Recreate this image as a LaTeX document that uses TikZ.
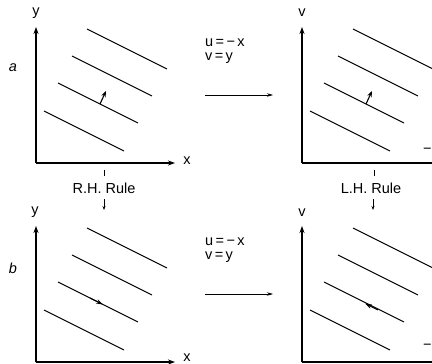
\documentclass[tikz,border=0pt]{standalone}
\usepackage{fontspec}
\setmainfont{Liberation Sans}
\usetikzlibrary{arrows.meta}
\tikzset{
  axis/.style={line width=1.1pt,-{Stealth[length=7pt,width=5pt]}},
  field/.style={line width=1.1pt},
  txt/.style={font=\fontsize{14.5}{16}\selectfont, inner sep=0pt},
  tickmark/.style={line width=0.8pt},
  maparrow/.style={line width=0.7pt,-{Stealth[length=6pt,width=3.5pt]}},
  smallarrow/.style={line width=0.7pt,-{Stealth[length=4pt,width=3pt]}},
  vecarrow/.style={line width=1.1pt,-{Stealth[length=6pt,width=4.5pt]}},
  midhead/.style={line width=1.1pt,-{Stealth[length=7pt,width=4.5pt]}}
}
\begin{document}
\begin{tikzpicture}[x=1pt,y=-1pt]
\useasboundingbox (0,0) rectangle (432,364);
\foreach \dx/\dy/\nm in {0/0/A,266/0/B,0/199/C,266/199/D}{
  \begin{scope}[shift={(\dx,\dy)}]
    \coordinate (O\nm) at (36,163);
    \coordinate (Y\nm) at (36,27);
    \coordinate (X\nm) at (175,163);
    \draw[axis] (O\nm) -- (Y\nm);
    \draw[axis] (O\nm) -- (X\nm);
    \draw[field] (87,29) -- (167,69);
    \draw[field] (72,56) -- (152,96);
    \draw[field] (58,83) -- (138,123);
    \draw[field] (44,111) -- (124,151);
  \end{scope}
}
% axis labels
\node[txt] (ly1) at (36,13) {y};
\node[txt] (lx1) at (187,161) {x};
\node[txt] (lv1) at (302,13) {v};
\node[txt,anchor=west] (lu1) at (423,150) {−u};
\node[txt] (ly2) at (35,212) {y};
\node[txt] (lx2) at (187,358) {x};
\node[txt] (lv2) at (302,213) {v};
\node[txt,anchor=west] (lu2) at (423,346) {−u};
% panel letters
\node[txt,font=\fontsize{14.5}{16}\selectfont\itshape] (pa) at (13,68) {a};
\node[txt,font=\fontsize{14.5}{16}\selectfont\itshape] (pb) at (13,268) {b};
% ticks and rule labels
\draw[tickmark] (104,170) -- (104,176);
\draw[tickmark] (374,170) -- (374,176);
\node[txt] (rh) at (104,188) {R.H.\ Rule};
\node[txt] (lh) at (371,188) {L.H.\ Rule};
\coordinate (rha) at (104,199);
\coordinate (rhb) at (104,210);
\coordinate (lha) at (373,199);
\coordinate (lhb) at (373,210);
\draw[smallarrow] (rha) -- (rhb);
\draw[smallarrow] (lha) -- (lhb);
% transformation labels
\node[txt,anchor=west] (t1) at (205,42.5) {u\,=\,−\,x};
\node[txt,anchor=west] (t2) at (205,58.5) {v\,=\,y};
\node[txt,anchor=west] (t3) at (205,241.5) {u\,=\,−\,x};
\node[txt,anchor=west] (t4) at (205,257.5) {v\,=\,y};
\coordinate (m1a) at (205,95);
\coordinate (m1b) at (273,95);
\coordinate (m2a) at (205,294);
\coordinate (m2b) at (273,294);
\draw[maparrow] (m1a) -- (m1b);
\draw[maparrow] (m2a) -- (m2b);
% direction arrows
\coordinate (v1a) at (100,104);
\coordinate (v1b) at (106,91);
\draw[vecarrow] (v1a) -- (v1b);
\coordinate (v2a) at (366,104);
\coordinate (v2b) at (372,91);
\draw[vecarrow] (v2a) -- (v2b);
\coordinate (h1a) at (90,298);
\coordinate (h1b) at (103,304.5);
\draw[midhead] (h1a) -- (h1b);
\coordinate (h2a) at (378,310);
\coordinate (h2b) at (365,303.5);
\draw[midhead] (h2a) -- (h2b);
\end{tikzpicture}
\end{document}
